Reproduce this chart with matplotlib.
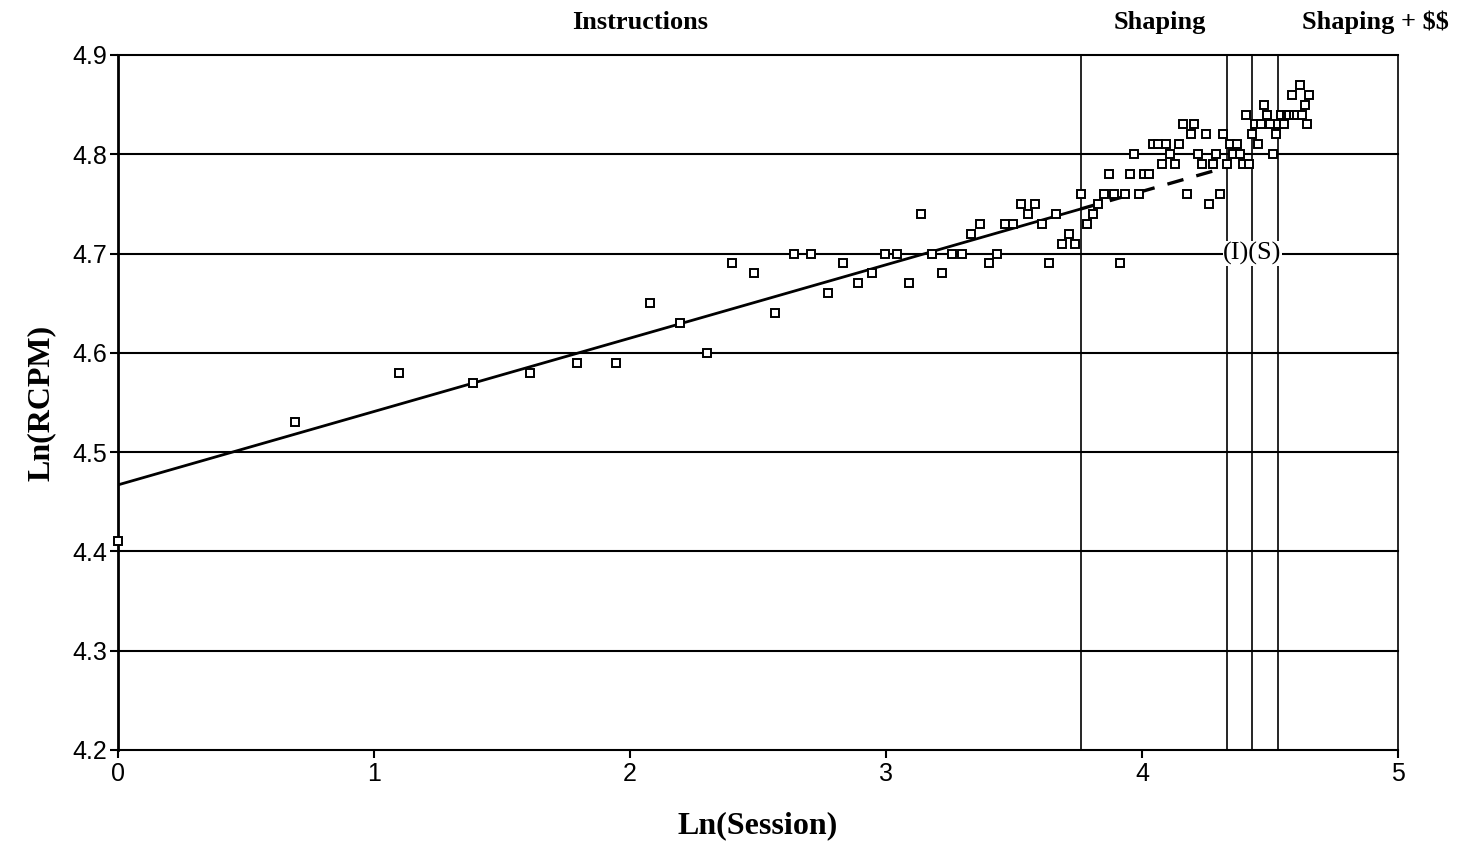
import numpy as np
import matplotlib
matplotlib.use("Agg")
import matplotlib.pyplot as plt

# Session numbers and log response rate per session
sessions = list(range(1, 106))
ln_rcpm = [
    4.41, 4.53, 4.58, 4.57, 4.58, 4.59, 4.59, 4.65, 4.63, 4.60,   # 1-10
    4.69, 4.68, 4.64, 4.70, 4.70, 4.66, 4.69, 4.67, 4.68, 4.70,   # 11-20
    4.70, 4.67, 4.74, 4.70, 4.68, 4.70, 4.70, 4.72, 4.73, 4.69,   # 21-30
    4.70, 4.73, 4.73, 4.75, 4.74, 4.75, 4.73, 4.69, 4.74, 4.71,   # 31-40
    4.72, 4.71, 4.76, 4.73, 4.74, 4.75, 4.76, 4.78, 4.76, 4.69,   # 41-50
    4.76, 4.78, 4.80, 4.76, 4.78, 4.78, 4.81, 4.81, 4.79, 4.81,   # 51-60
    4.80, 4.79, 4.81, 4.83, 4.76, 4.82, 4.83, 4.80, 4.79, 4.82,   # 61-70
    4.75, 4.79, 4.80, 4.76, 4.82, 4.79, 4.81, 4.80, 4.81, 4.80,   # 71-80
    4.79, 4.84, 4.79, 4.82, 4.83, 4.81, 4.83, 4.85, 4.84, 4.83,   # 81-90
    4.80, 4.82, 4.83, 4.84, 4.83, 4.84, 4.84, 4.86, 4.84, 4.84,   # 91-100
    4.87, 4.84, 4.85, 4.83, 4.86,                                 # 101-105
]

# Fitted trend for the instructions phase (intercept, slope in ln units)
trend_intercept = 4.467
trend_slope = 0.0739
instructions_end = np.log(43)
projection_end = np.log(76)

# Phase boundaries (ln of the session where each condition begins)
phase_lines = [np.log(43), np.log(76), np.log(84), np.log(93)]
phase_labels = ["Instructions", "Shaping", r"Shaping + \$\$"]
phase_label_x = [2.04, 4.07, 4.91]
probe_label = "(I)(S)"

y_ticks = [4.2, 4.3, 4.4, 4.5, 4.6, 4.7, 4.8, 4.9]
x_ticks = [0, 1, 2, 3, 4, 5]

x = np.log(np.array(sessions))
y = np.array(ln_rcpm)

fig = plt.figure(figsize=(14.69, 8.46), dpi=100)
ax = fig.add_axes([0.0803, 0.1135, 0.8714, 0.8215])
ax.set_xlim(0, 5)
ax.set_ylim(4.2, 4.9)

for yt in y_ticks:
    ax.axhline(yt, color="black", lw=1.5, zorder=1, clip_on=False)
for xv in phase_lines:
    ax.axvline(xv, color="black", lw=1.2, zorder=1)

for s in ["top", "bottom"]:
    ax.spines[s].set_visible(False)
ax.spines["left"].set_linewidth(2.0)
ax.spines["right"].set_linewidth(1.2)

# trend line and its dashed projection
xs = np.array([0, instructions_end])
ax.plot(xs, trend_intercept + trend_slope * xs, color="black", lw=2.0, zorder=3)
xp = np.array([instructions_end, projection_end])
ax.plot(xp, trend_intercept + trend_slope * xp, color="black", lw=2.4,
        ls=(0, (5, 4)), zorder=3)

ax.plot(x, y, ls="none", marker="s", ms=6.0, mfc="white", mec="black",
        mew=1.4, zorder=4, clip_on=False)

ax.set_xticks(x_ticks)
ax.set_yticks(y_ticks)
ax.set_xticklabels([str(t) for t in x_ticks], family="Liberation Sans", fontsize=18)
ax.set_yticklabels([f"{t:.1f}" for t in y_ticks], family="Liberation Sans", fontsize=18)
ax.tick_params(axis="both", direction="out", length=6, width=1.5, color="black")
ax.tick_params(axis="x", pad=3)
ax.tick_params(axis="y", pad=2)

ax.set_xlabel("Ln(Session)", family="Liberation Serif", fontweight="bold",
              fontsize=23, labelpad=18)
ax.set_ylabel("Ln(RCPM)", family="Liberation Serif", fontweight="bold",
              fontsize=23, labelpad=12)

for lbl, lx in zip(phase_labels, phase_label_x):
    ax.text(lx, 1.047, lbl, transform=ax.get_xaxis_transform(), ha="center",
            va="center", family="Liberation Serif", fontweight="bold",
            fontsize=19, clip_on=False)

# probe markers between the shaping phase lines
ax.text((phase_lines[1] + phase_lines[3]) / 2, 4.70, probe_label, ha="center",
        va="center", family="Liberation Serif", fontsize=19, zorder=5,
        bbox=dict(boxstyle="square,pad=0.02", fc="white", ec="none"))

fig.savefig("out.png", dpi=100, facecolor="white")
